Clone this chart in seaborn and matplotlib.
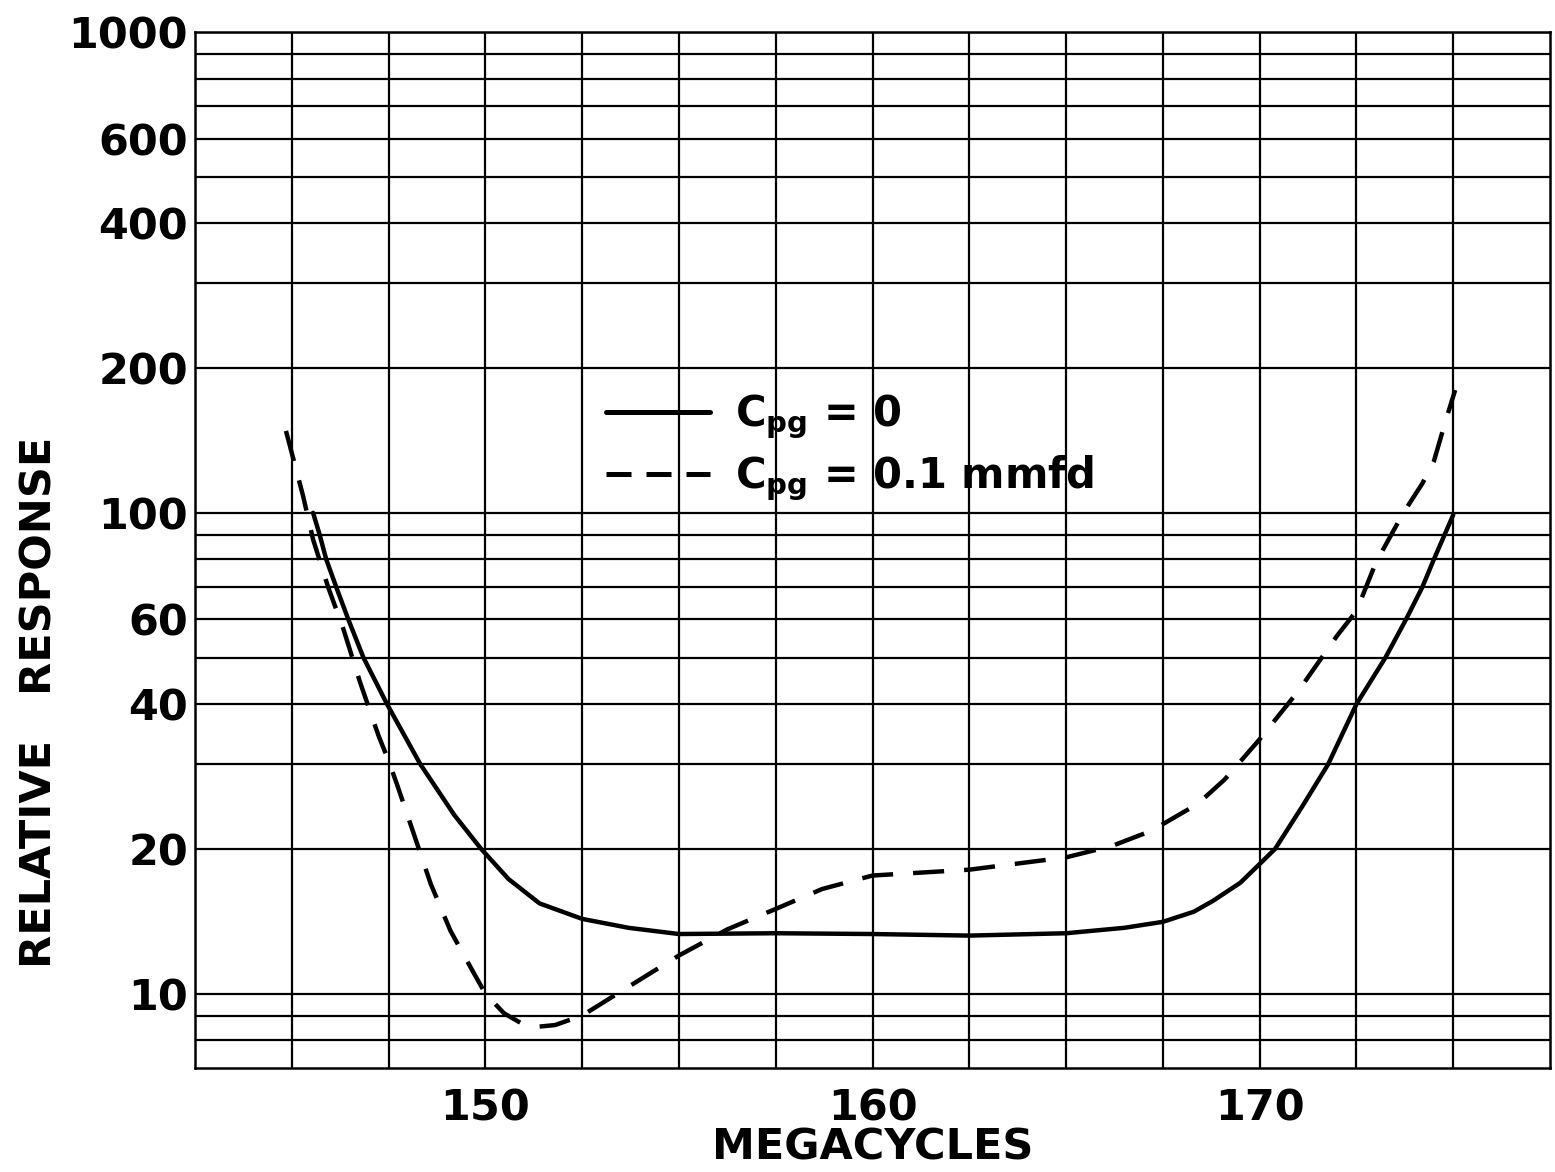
"""
Relative response vs frequency for two grid-plate capacitances (log scale).
"""

import pandas as pd
import matplotlib.pyplot as plt
import seaborn as sns

# Cpg = 0 (solid curve)
mc_zero = [145.55, 145.72, 145.89, 146.15, 146.46, 146.85, 147.46, 148.32, 149.2,
           149.89, 150.6, 151.4, 152.5, 153.7, 155.0, 157.5, 160.0, 162.5, 165.0,
           166.5, 167.5, 168.3, 168.8, 169.5, 170.0, 170.4, 171.1, 171.77, 172.5,
           173.25, 173.78, 174.2, 174.5, 175.0]
resp_zero = [100, 90, 80, 70, 60, 50, 40, 30, 23.5,
             20, 17.3, 15.4, 14.3, 13.7, 13.3, 13.35, 13.3, 13.2, 13.35,
             13.7, 14.1, 14.8, 15.6, 17.0, 18.6, 20, 24.5, 30, 40,
             50, 60, 70, 80, 99]

# Cpg = 0.1 mmfd (dashed curve)
mc_cap = [144.85, 145.29, 145.55, 145.94, 146.33, 146.76, 147.24, 147.5, 147.72,
          148.15, 148.59, 149.1, 149.71, 150.0, 150.48, 150.9, 151.35, 151.8,
          152.5, 153.5, 155.0, 156.25, 157.5, 158.7, 160.0, 162.5, 165.0, 166.2,
          167.2, 168.4, 169.1, 170.0, 171.0, 172.0, 172.5, 173.0, 173.7, 174.2,
          174.5, 174.8, 175.05]
resp_cap = [148, 108.5, 88, 70, 57.4, 44.5, 34.4, 30.5, 27.2,
            21.5, 16.9, 13.5, 11.0, 10.0, 9.1, 8.7, 8.53, 8.6,
            9.0, 10.1, 12.0, 13.6, 15.0, 16.5, 17.6, 18.1, 19.2, 20.3,
            21.8, 24.8, 27.9, 33.8, 42.6, 55.5, 62.5, 78.7, 99.6, 115,
            128, 155, 180]

series_names = ["C$_{\\mathbf{pg}}$ = 0", "C$_{\\mathbf{pg}}$ = 0.1 mmfd"]

y_grid = [8, 9, 10, 20, 30, 40, 50, 60, 70, 80, 90, 100,
          200, 300, 400, 500, 600, 700, 800, 900, 1000]
y_labeled = [10, 20, 40, 60, 100, 200, 400, 600, 1000]
x_grid = [145, 147.5, 150, 152.5, 155, 157.5, 160, 162.5, 165, 167.5, 170, 172.5, 175]
x_labeled = [150, 160, 170]

df = pd.concat([
    pd.DataFrame({"mc": mc_zero, "resp": resp_zero, "curve": series_names[0]}),
    pd.DataFrame({"mc": mc_cap, "resp": resp_cap, "curve": series_names[1]}),
], ignore_index=True)

sns.set_style("white", {"text.color": "black", "xtick.color": "black",
                        "ytick.color": "black", "axes.labelcolor": "black"})
plt.rcParams["font.family"] = ["DejaVu Sans"]
plt.rcParams["font.weight"] = "bold"
plt.rcParams["mathtext.fontset"] = "dejavusans"

fig = plt.figure(figsize=(15.55, 11.72), dpi=100)
ax = fig.add_axes([0.1254, 0.0887, 0.8714, 0.8840])

sns.lineplot(data=df, x="mc", y="resp", style="curve", color="black",
             dashes={series_names[0]: "", series_names[1]: (7, 4.5)},
             estimator=None, sort=False, linewidth=3.2, ax=ax)

ax.set_yscale("log")
ax.set_xlim(142.5, 177.5)
ax.set_ylim(7, 1000)

ax.set_yticks(y_grid)
ax.set_yticklabels([str(v) if v in y_labeled else "" for v in y_grid])
ax.yaxis.set_minor_locator(plt.NullLocator())
ax.set_xticks(x_grid)
ax.set_xticklabels([str(int(v)) if v in x_labeled else "" for v in x_grid])
ax.tick_params(axis="both", length=0, labelsize=31, labelcolor="black")
ax.tick_params(axis="y", pad=5)
ax.tick_params(axis="x", pad=14)
ax.grid(True, color="black", linewidth=1.6)

for side in ax.spines.values():
    side.set_color("black")
    side.set_linewidth(1.8)

ax.set_xlabel("")
ax.set_ylabel("")
fig.text(873 / 1555, 1 - 1147 / 1172, "MEGACYCLES", fontsize=31,
         fontweight="bold", ha="center", va="center", color="black")
fig.text(40 / 1555, 1 - 702 / 1172, "RELATIVE   RESPONSE", fontsize=31,
         fontweight="bold", ha="center", va="center", rotation=90, color="black")

handles, labels = ax.get_legend_handles_labels()
leg = ax.legend(handles, labels, loc="upper left", bbox_to_anchor=(0.288, 0.672),
                frameon=False, fontsize=30, handlelength=2.5, handletextpad=0.6,
                labelspacing=0.3, borderpad=0)
leg_lines = leg.get_lines()
for line in leg_lines:
    line.set_linewidth(3.6)
leg_lines[1].set_dashes((5, 3))

fig.savefig("out.png", dpi=100)
plt.close(fig)
